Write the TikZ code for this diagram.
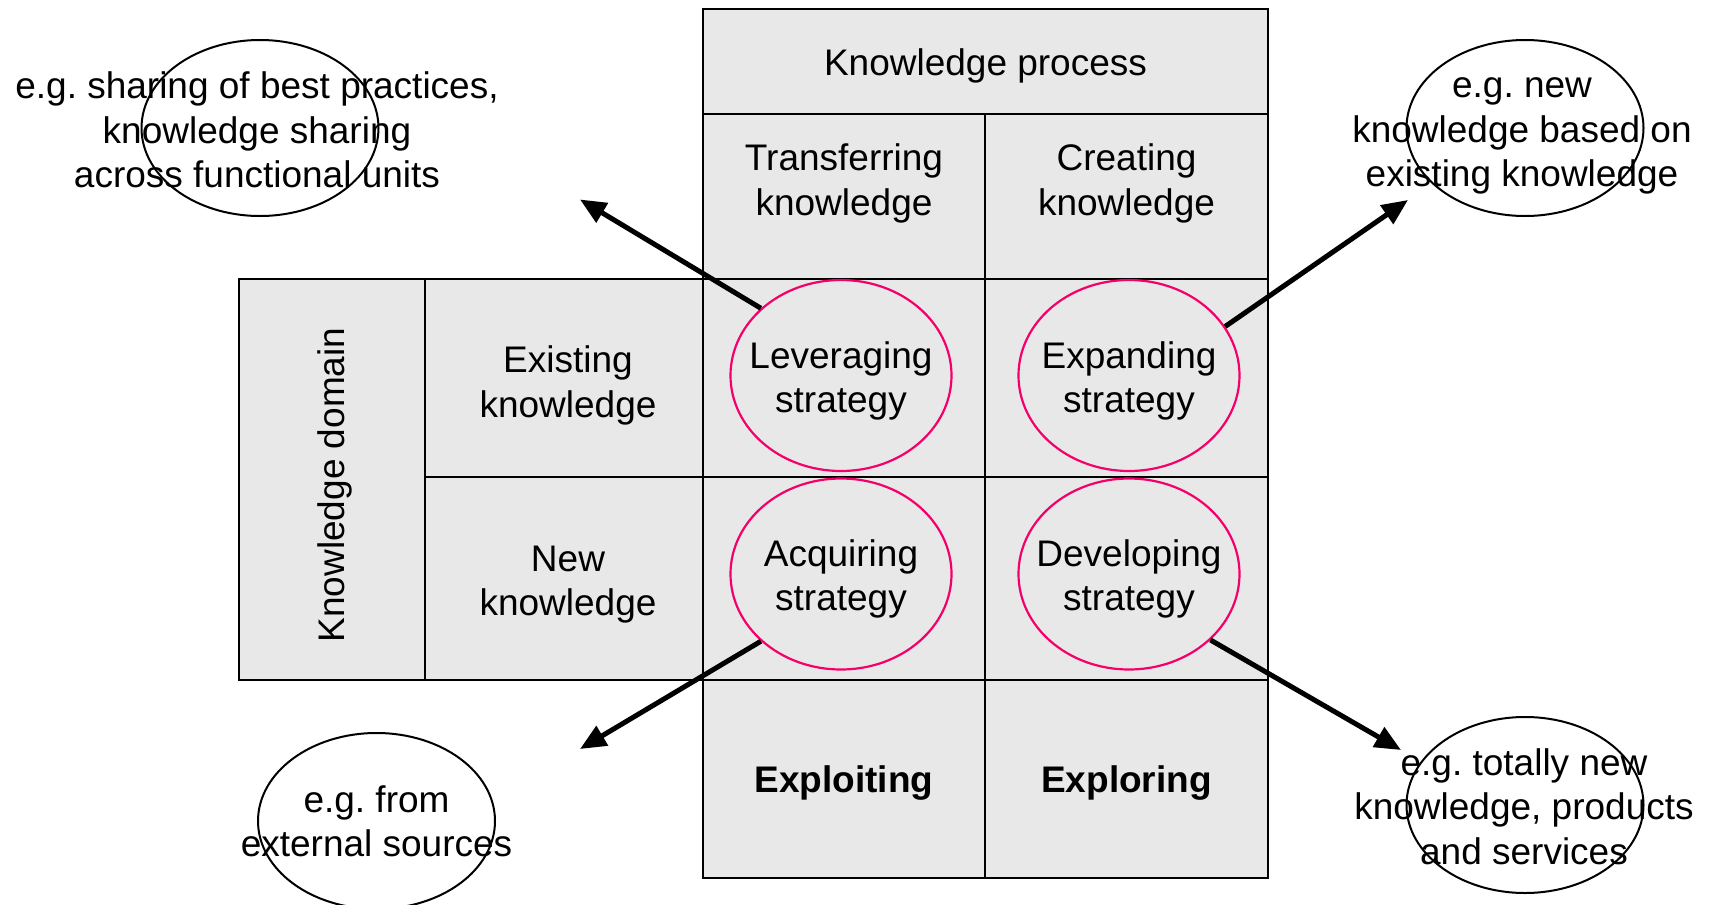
\documentclass[tikz,border=0pt]{standalone}
\usepackage{fontspec}
\setmainfont{Liberation Sans}
\usetikzlibrary{arrows.meta,shapes.geometric}
\definecolor{cellgray}{HTML}{E8E8E8}
\definecolor{rose}{HTML}{F5006A}
\tikzset{
  lab/.style={align=center, inner sep=0pt, font=\fontsize{37}{44.5}\selectfont},
  labb/.style={lab, font=\fontsize{37}{44.5}\selectfont\bfseries},
  cell/.style={draw=black, fill=cellgray, line width=2.5pt, inner sep=0pt},
  strat/.style={ellipse, draw=rose, line width=2.2pt, minimum width=221pt, minimum height=191pt, inner sep=0pt},
  egoval/.style={ellipse, draw=black, line width=2pt, minimum width=237pt, minimum height=176pt, inner sep=0pt},
  push/.style={line width=5pt, -{Triangle[length=26pt,width=22pt]}},
}
\begin{document}
\begin{tikzpicture}[x=1pt,y=-1pt]
  \useasboundingbox (0,0) rectangle (1709,905);

  % knowledge process column
  \node[cell, minimum width=565pt, minimum height=105pt] (head) at (985.5,61.5) {};
  \node[cell, minimum width=282pt, minimum height=165pt] (transfer) at (844,196.5) {};
  \node[cell, minimum width=283pt, minimum height=165pt] (create) at (1126.5,196.5) {};
  \node[cell, minimum width=282pt, minimum height=198pt] (levcell) at (844,378) {};
  \node[cell, minimum width=283pt, minimum height=198pt] (expcell) at (1126.5,378) {};
  \node[cell, minimum width=282pt, minimum height=203pt] (acqcell) at (844,578.5) {};
  \node[cell, minimum width=283pt, minimum height=203pt] (devcell) at (1126.5,578.5) {};
  \node[cell, minimum width=282pt, minimum height=198pt] (exploit) at (844,779) {};
  \node[cell, minimum width=283pt, minimum height=198pt] (explore) at (1126.5,779) {};

  % knowledge domain rows
  \node[cell, minimum width=186pt, minimum height=401pt] (domain) at (332,479.5) {};
  \node[cell, minimum width=278pt, minimum height=198pt] (existing) at (564,378) {};
  \node[cell, minimum width=278pt, minimum height=203pt] (new) at (564,578.5) {};

  \node[lab] (headtxt) at (985.5,66) {Knowledge process};
  \node[lab] (transfertxt) at (844,183.5) {Transferring\\knowledge};
  \node[lab] (createtxt) at (1126.5,183.5) {Creating\\knowledge};
  \node[labb] (exploittxt) at (844,783.5) {Exploiting};
  \node[labb] (exploretxt) at (1126.5,783.5) {Exploring};
  \node[lab, rotate=90] (domaintxt) at (334.5,485) {Knowledge domain};
  \node[lab] (existingtxt) at (568,385.5) {Existing\\knowledge};
  \node[lab] (newtxt) at (568,584.5) {New\\knowledge};

  % strategies
  \node[strat] (lev) at (841,375.5) {};
  \node[strat] (exp) at (1129,375.5) {};
  \node[strat] (acq) at (841,574) {};
  \node[strat] (dev) at (1129,574) {};
  \node[lab] (levtxt) at (841,381) {Leveraging\\strategy};
  \node[lab] (exptxt) at (1129,381) {Expanding\\strategy};
  \node[lab] (acqtxt) at (841,579) {Acquiring\\strategy};
  \node[lab] (devtxt) at (1129,579) {Developing\\strategy};

  % examples
  \node[egoval] (egtl) at (260,128) {};
  \node[egoval] (egtr) at (1525,128) {};
  \node[egoval] (egbl) at (376.5,821) {};
  \node[egoval] (egbr) at (1525,805) {};
  \node[lab] (egtltxt) at (257,130) {e.g.\ sharing of best practices,\\knowledge sharing\\across functional units};
  \node[lab] (egtrtxt) at (1522,136) {e.g.\ new\\knowledge based on\\existing knowledge};
  \node[lab] (egbltxt) at (376.5,821.5) {e.g.\ from\\external sources};
  \node[lab] (egbrtxt) at (1524,806.5) {e.g.\ totally new\\knowledge, products\\and services};

  \coordinate (tiptl) at (580,199.5);
  \coordinate (tiptr) at (1408,200);
  \coordinate (tipbl) at (580,749);
  \coordinate (tipbr) at (1401,750);

  \draw[push] (lev.140) -- (tiptl);
  \draw[push] (exp.27) -- (tiptr);
  \draw[push] (acq.220) -- (tipbl);
  \draw[push] (dev.321) -- (tipbr);
\end{tikzpicture}
\end{document}
